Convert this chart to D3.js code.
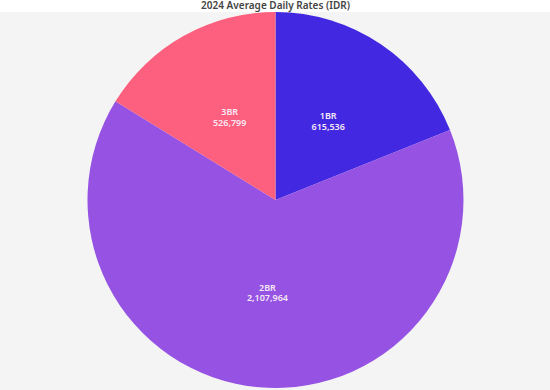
<!DOCTYPE html>
<html>
<head>
  <meta charset="utf-8" />
  <script src="https://cdn.jsdelivr.net/npm/d3@7"></script>
  <style>
    body { margin: 0; background: #ffffff; }
    svg { display: block; }
  </style>
</head>
<body>
  <svg id="pie" width="550" height="390"></svg>
  <script>
    // chart data
    const categories = ["1BR", "2BR", "3BR"];
    const rates = [615536, 2107964, 526799];
    const colors = ["#4328e2", "#9552e3", "#fd5f7e"];

    const width = 550, height = 390;
    const cx = 275.5, cy = 200, radius = 188;

    const svg = d3.select("svg#pie");

    // grey plot area below the title strip
    svg.append("rect")
      .attr("x", 0).attr("y", 12)
      .attr("width", width).attr("height", height - 12)
      .attr("fill", "#f4f4f4");

    svg.append("text")
      .attr("x", cx)
      .attr("y", 9)
      .attr("text-anchor", "middle")
      .attr("font-family", "'Noto Sans', sans-serif")
      .attr("font-size", 10)
      .attr("font-weight", 600)
      .attr("fill", "#444")
      .text("2024 Average Daily Rates (IDR)");

    const data = categories.map((c, i) => ({ cat: c, value: rates[i], color: colors[i] }));

    const pie = d3.pie().sort(null).value(d => d.value);
    const arc = d3.arc().innerRadius(0).outerRadius(radius);
    const labelArc = d3.arc().innerRadius(radius / 2).outerRadius(radius / 2);

    const g = svg.append("g").attr("transform", "translate(" + cx + "," + cy + ")");

    const slices = g.selectAll("g.slice")
      .data(pie(data))
      .enter()
      .append("g")
      .attr("class", "slice");

    slices.append("path")
      .attr("d", arc)
      .attr("fill", d => d.data.color);

    const fmt = d3.format(",");
    const labels = slices.append("text")
      .attr("transform", d => "translate(" + labelArc.centroid(d) + ")")
      .attr("text-anchor", "middle")
      .attr("font-family", "'Noto Sans', sans-serif")
      .attr("font-size", 9)
      .attr("font-weight", 600)
      .attr("fill", "#f6e9f4");

    labels.append("tspan")
      .attr("x", 0)
      .attr("dy", "-0.3em")
      .text(d => d.data.cat);
    labels.append("tspan")
      .attr("x", 0)
      .attr("dy", "1.15em")
      .text(d => fmt(d.data.value));
  </script>
</body>
</html>
